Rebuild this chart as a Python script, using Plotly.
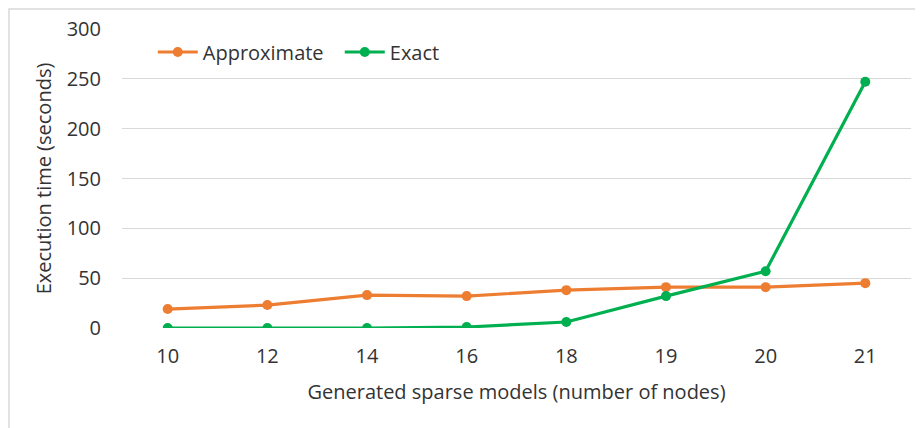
import plotly.graph_objects as go

# Node counts of the generated sparse models
nodes = ["10", "12", "14", "16", "18", "19", "20", "21"]

# Execution time in seconds
approximate = [19, 23, 33, 32, 38, 41, 41, 45]
exact = [0, 0, 0, 1, 6, 32, 57, 247]

y_ticks = [0, 50, 100, 150, 200, 250, 300]

W, H = 923, 428
L, R, T, B = 114, 20, 21, 108
pw, ph = W - L - R, H - T - B
FONT = "'Open Sans', Lato, sans-serif"
TEXT = "#333333"
FS = 20

fig = go.Figure()

fig.add_trace(go.Scatter(x=nodes, y=approximate,
                         mode="lines+markers",
                         name="Approximate",
                         line=dict(color="#ED7D31", width=3.2),
                         marker=dict(color="#ED7D31", size=10)))

fig.add_trace(go.Scatter(x=nodes, y=exact,
                         mode="lines+markers",
                         name="Exact",
                         line=dict(color="#00B050", width=3.2),
                         marker=dict(color="#00B050", size=10)))

fig.update_xaxes(type="category", automargin=False,
                 showgrid=False, zeroline=False, showline=False,
                 ticks="", ticklabelstandoff=14,
                 tickfont=dict(size=FS, color=TEXT, family=FONT),
                 title=dict(text="Generated sparse models (number of nodes)",
                            font=dict(size=FS, color=TEXT, family=FONT),
                            standoff=16))

fig.update_yaxes(range=[0, 300], tickvals=y_ticks, automargin=False,
                 showgrid=True, gridcolor="#d9d9d9", gridwidth=1,
                 zeroline=False, showline=False, ticks="",
                 ticklabelstandoff=20,
                 tickfont=dict(size=FS, color=TEXT, family=FONT),
                 title=dict(text="Execution time (seconds)",
                            font=dict(size=FS, color=TEXT, family=FONT),
                            standoff=9))

# thin outer frame of the chart (only top/left edges are visible)
fig.add_shape(type="rect", xref="paper", yref="paper",
              x0=(1 - L) / pw, x1=(W + 20 - L) / pw,
              y0=-(B + 20) / ph, y1=1 + (T - 1) / ph,
              line=dict(color="#d9d9d9", width=1.5), layer="below")

fig.update_layout(width=W, height=H,
                  margin=dict(l=L, r=R, t=T, b=B, autoexpand=False),
                  paper_bgcolor="white", plot_bgcolor="white",
                  font=dict(family=FONT, color=TEXT),
                  legend=dict(orientation="h", x=0.039, y=0.923,
                              xanchor="left", yanchor="middle",
                              font=dict(size=FS, color=TEXT, family=FONT),
                              itemwidth=40, entrywidth=132,
                              bgcolor="rgba(0,0,0,0)"),
                  showlegend=True)

fig.write_html("out.html")
